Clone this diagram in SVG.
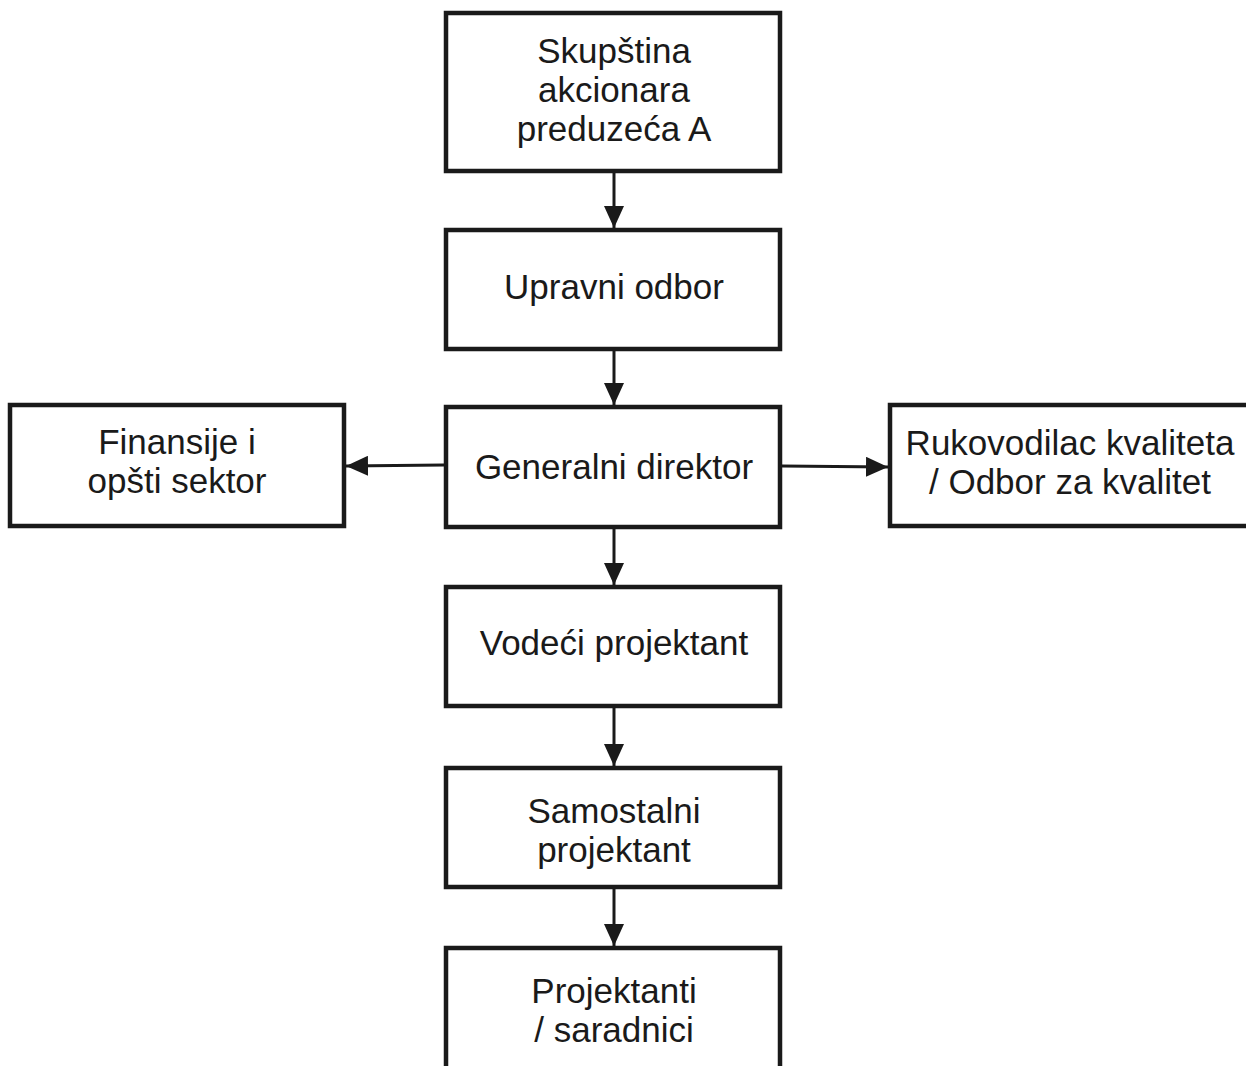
<svg xmlns="http://www.w3.org/2000/svg" width="1246" height="1066" viewBox="0 0 1246 1066">
<style>
.box{fill:#fff;stroke:#1a1a1a;stroke-width:4.5}
.t{font-family:"Liberation Sans",Arial,sans-serif;font-size:35px;fill:#1a1a1a;text-anchor:middle}
.c{stroke:#1a1a1a;stroke-width:3;fill:none;marker-end:url(#ah)}
</style>
<defs>
<marker id="ah" markerWidth="22" markerHeight="20" refX="22" refY="10" orient="auto" markerUnits="userSpaceOnUse">
<path d="M0,0 L22,10 L0,20 Z" fill="#1a1a1a"/>
</marker>
</defs>
<rect width="1246" height="1066" fill="#fff"/>
<g id="connectors">
<line class="c" x1="614" y1="173" x2="614" y2="228"/>
<line class="c" x1="614" y1="351" x2="614" y2="405"/>
<line class="c" x1="444" y1="465" x2="346" y2="466"/>
<line class="c" x1="782" y1="466" x2="888" y2="467"/>
<line class="c" x1="614" y1="529" x2="614" y2="585"/>
<line class="c" x1="614" y1="708" x2="614" y2="766"/>
<line class="c" x1="614" y1="889" x2="614" y2="946"/>
</g>
<g id="n1"><rect class="box" x="446" y="13" width="334" height="158"/>
<text class="t" x="614" y="63">Skupština</text><text class="t" x="614" y="102">akcionara</text><text class="t" x="614" y="141">preduzeća A</text></g>
<g id="n2"><rect class="box" x="446" y="230" width="334" height="119"/>
<text class="t" x="614" y="299">Upravni odbor</text></g>
<g id="n3"><rect class="box" x="446" y="407" width="334" height="120"/>
<text class="t" x="614" y="479">Generalni direktor</text></g>
<g id="n4"><rect class="box" x="10" y="405" width="334" height="121"/>
<text class="t" x="177" y="454">Finansije i</text><text class="t" x="177" y="493">opšti sektor</text></g>
<g id="n5"><rect class="box" x="890" y="405" width="360" height="121"/>
<text class="t" x="1070" y="455">Rukovodilac kvaliteta</text><text class="t" x="1070" y="494">/ Odbor za kvalitet</text></g>
<g id="n6"><rect class="box" x="446" y="587" width="334" height="119"/>
<text class="t" x="614" y="655">Vodeći projektant</text></g>
<g id="n7"><rect class="box" x="446" y="768" width="334" height="119"/>
<text class="t" x="614" y="823">Samostalni</text><text class="t" x="614" y="862">projektant</text></g>
<g id="n8"><rect class="box" x="446" y="948" width="334" height="130"/>
<text class="t" x="614" y="1003">Projektanti</text><text class="t" x="614" y="1042">/ saradnici</text></g>
</svg>
